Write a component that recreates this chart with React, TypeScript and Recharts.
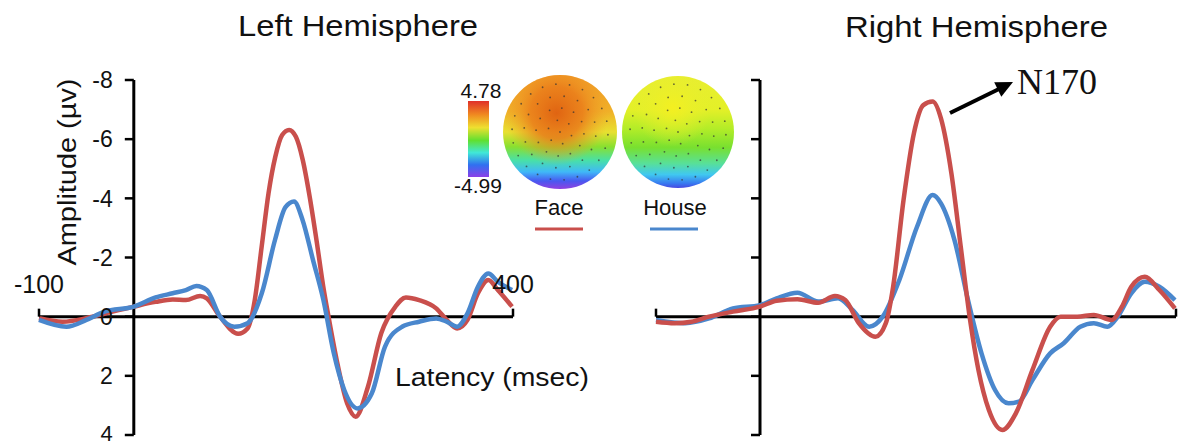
import React from "react";
import { LineChart, Line, XAxis, YAxis, ReferenceLine } from "recharts";

// ---- data (latency in ms, amplitude in µV; negative plotted up) ----
const leftFaceT = [-100, -75, -50, -31, 0, 23, 41, 55, 70, 77, 91, 110, 120, 127.6, 134.9, 142.1, 149.3, 156.5, 163.8, 171, 178.2, 185.5, 192.7, 199.9, 205.4, 214, 225, 234, 247, 261, 276, 287, 301, 319, 330, 341, 352, 363, 374, 384, 399];
const leftFaceV = [0.05, 0.17, 0.05, -0.1, -0.34, -0.5, -0.58, -0.56, -0.7, -0.62, 0, 0.58, 0.4, -0.56, -2.37, -4.17, -5.41, -6.14, -6.31, -6.08, -5.3, -4.06, -2.59, -1.01, 0, 1.46, 2.93, 3.38, 2.37, 0.56, -0.34, -0.65, -0.56, -0.28, 0.11, 0.4, 0.11, -0.79, -1.24, -0.9, -0.34];

const leftHouseT = [-100, -71, -50, -31, 0, 23, 41, 55, 66, 77, 91, 106, 120, 135, 149, 160, 169, 178, 189, 200, 211, 222, 236, 251, 265, 283, 301, 319, 330, 341, 352, 363, 374, 384, 399];
const leftHouseV = [0.11, 0.34, 0.11, -0.17, -0.34, -0.65, -0.79, -0.9, -1.04, -0.9, 0, 0.34, 0.22, -0.79, -2.6, -3.7, -3.89, -3.27, -1.92, -0.56, 1.24, 2.48, 3.1, 2.6, 1.01, 0.34, 0.17, 0.06, 0.17, 0.34, -0.11, -1.01, -1.46, -1.18, -0.9];

const rightFaceT = [-100, -82, -66, -49, -26, 0, 16, 36, 56, 72, 82, 95, 111, 121, 128, 138, 148, 157, 166, 174, 184, 193, 202, 210, 220, 233, 246, 262, 279, 289, 305, 321, 338, 348, 357, 370, 384, 399];
const rightFaceV = [0.17, 0.22, 0.17, 0, -0.17, -0.34, -0.54, -0.59, -0.47, -0.7, -0.56, 0.22, 0.68, 0.22, -1.01, -3.94, -6.2, -7.15, -7.27, -6.7, -4.85, -2.37, 0.11, 1.8, 3.15, 3.83, 3.27, 1.8, 0.34, 0, 0, -0.06, 0.11, -0.34, -1.01, -1.35, -0.9, -0.28];

const rightHouseT = [-100, -72, -49, -26, 0, 16, 36, 56, 75, 89, 105, 118, 134, 151, 166, 174, 187, 200, 213, 226, 239, 249, 262, 279, 292, 308, 321, 334, 344, 357, 370, 384, 399];
const rightHouseV = [0.11, 0.22, 0.06, -0.28, -0.39, -0.62, -0.81, -0.51, -0.62, -0.23, 0.34, 0, -1.24, -3.04, -4.11, -3.83, -2.59, -0.56, 1.24, 2.48, 2.93, 2.87, 2.14, 1.24, 0.9, 0.34, 0.22, 0.34, 0, -0.79, -1.18, -1.01, -0.56];

const yTicks = [-8, -6, -4, -2, 0, 2, 4];
const xTicks = [-100, 400];
const X_DOMAIN: [number, number] = [-100, 400];
const Y_DOMAIN: [number, number] = [-8, 4];

const FACE = "#C94F4C";
const HOUSE = "#4A87CD";
const FONT = "'Liberation Sans', Arial, Helvetica, sans-serif";

const toRows = (t: number[], v: number[]) => t.map((x, i) => ({ t: x, v: v[i] }));

const TOP = 80;
const H = 445;
const PLOT_H = 355;

type PanelProps = {
  left: number;
  chartW: number;
  mLeft: number;
  plotW: number;
  face: { t: number; v: number }[];
  house: { t: number; v: number }[];
  labels: boolean;
  faceOnTop: boolean;
};

function Panel({ left, chartW, mLeft, plotW, face, house, labels, faceOnTop }: PanelProps) {
  const x0 = mLeft + (plotW * (0 - X_DOMAIN[0])) / (X_DOMAIN[1] - X_DOMAIN[0]);
  const yZero = TOP + (PLOT_H * (0 - Y_DOMAIN[0])) / (Y_DOMAIN[1] - Y_DOMAIN[0]);

  const YTick = (p: any) => {
    const y = p.y;
    const isLast = p.payload.value === Y_DOMAIN[1];
    return (
      <g>
        <line x1={x0 - 9} x2={x0} y1={y} y2={y} stroke="#000" strokeWidth={2.5} />
        {labels && (
          <text
            x={x0 - 21}
            y={isLast ? y - 2 : y}
            dy="0.36em"
            textAnchor="end"
            fontSize={isLast ? 22 : 23}
            fontFamily={FONT}
            fill="#111"
          >
            {p.payload.value}
          </text>
        )}
      </g>
    );
  };
  const XTick = (p: any) => {
    const x = p.x;
    return (
      <g>
        <line x1={x} x2={x} y1={yZero - 8} y2={yZero} stroke="#000" strokeWidth={2.5} />
        {labels && (
          <text x={x} y={yZero - 24} textAnchor="middle" fontSize={25} fontFamily={FONT} fill="#111">
            {p.payload.value}
          </text>
        )}
      </g>
    );
  };

  const faceLine = (
    <Line key="f" data={face} dataKey="v" type="monotone" stroke={FACE} strokeWidth={4.5} dot={false} isAnimationActive={false} />
  );
  const houseLine = (
    <Line key="h" data={house} dataKey="v" type="monotone" stroke={HOUSE} strokeWidth={4.5} dot={false} isAnimationActive={false} />
  );

  return (
    <div style={{ position: "absolute", left, top: 0 }}>
      <LineChart
        width={chartW}
        height={H}
        margin={{ top: TOP, right: chartW - mLeft - plotW, bottom: H - TOP - PLOT_H - 1, left: mLeft - 1 }}
      >
        <XAxis
          dataKey="t"
          type="number"
          domain={X_DOMAIN}
          ticks={xTicks}
          allowDuplicatedCategory={false}
          height={1}
          axisLine={false}
          tickLine={false}
          tick={XTick}
          interval={0}
        />
        <YAxis
          type="number"
          domain={Y_DOMAIN}
          reversed
          ticks={yTicks}
          width={1}
          axisLine={false}
          tickLine={false}
          tick={YTick}
          interval={0}
        />
        <ReferenceLine x={0} stroke="#000" strokeWidth={3} />
        <ReferenceLine y={0} stroke="#000" strokeWidth={3} />
        {faceOnTop ? [houseLine, faceLine] : [faceLine, houseLine]}
      </LineChart>
    </div>
  );
}

function electrodeDots(cx: number, cy: number) {
  const rings = [
    { r: 0, n: 1 },
    { r: 12, n: 6 },
    { r: 24, n: 12 },
    { r: 36, n: 16 },
    { r: 48, n: 22 },
  ];
  const out: React.ReactNode[] = [];
  rings.forEach((ring, ri) => {
    for (let k = 0; k < ring.n; k++) {
      const a = (2 * Math.PI * k) / ring.n + ri * 0.3;
      out.push(
        <circle key={`${ri}-${k}`} cx={cx + ring.r * Math.cos(a)} cy={cy + ring.r * Math.sin(a)} r={0.9} fill="#333" opacity={0.7} />
      );
    }
  });
  return out;
}

function Overlay() {
  return (
    <svg width={1180} height={445} style={{ position: "absolute", left: 0, top: 0, pointerEvents: "none" }}>
      <defs>
        <linearGradient id="cbar" x1="0" y1="0" x2="0" y2="1">
          <stop offset="0%" stopColor="#E0302A" />
          <stop offset="18%" stopColor="#F08A20" />
          <stop offset="35%" stopColor="#EEE030" />
          <stop offset="52%" stopColor="#60E030" />
          <stop offset="68%" stopColor="#40E8D8" />
          <stop offset="84%" stopColor="#3070F0" />
          <stop offset="100%" stopColor="#8A40E8" />
        </linearGradient>
        <linearGradient id="faceBase" x1="0" y1="0" x2="0" y2="1">
          <stop offset="0%" stopColor="#F09A26" />
          <stop offset="32%" stopColor="#F0B028" />
          <stop offset="50%" stopColor="#E8E030" />
          <stop offset="63%" stopColor="#88E030" />
          <stop offset="75%" stopColor="#48E0A8" />
          <stop offset="85%" stopColor="#40B8F8" />
          <stop offset="93%" stopColor="#4858F0" />
          <stop offset="100%" stopColor="#9040E0" />
        </linearGradient>
        <radialGradient id="faceHot" cx="0.47" cy="0.33" r="0.46">
          <stop offset="0%" stopColor="#E06412" stopOpacity={1} />
          <stop offset="50%" stopColor="#EA7C1A" stopOpacity={0.85} />
          <stop offset="100%" stopColor="#F0A028" stopOpacity={0} />
        </radialGradient>
        <linearGradient id="houseBase" x1="0" y1="0" x2="0" y2="1">
          <stop offset="0%" stopColor="#E8EE30" />
          <stop offset="30%" stopColor="#E4F028" />
          <stop offset="48%" stopColor="#B0EC28" />
          <stop offset="64%" stopColor="#78E030" />
          <stop offset="78%" stopColor="#58E098" />
          <stop offset="88%" stopColor="#40C8F0" />
          <stop offset="96%" stopColor="#3878F0" />
          <stop offset="100%" stopColor="#4848E0" />
        </linearGradient>
        <radialGradient id="houseHot" cx="0.45" cy="0.28" r="0.35">
          <stop offset="0%" stopColor="#F4F020" stopOpacity={1} />
          <stop offset="100%" stopColor="#E8EE30" stopOpacity={0} />
        </radialGradient>
      </defs>

      {/* titles */}
      <text x={238} y={36} fontSize={29} fontFamily={FONT} fill="#111" textLength={240} lengthAdjust="spacingAndGlyphs">
        Left Hemisphere
      </text>
      <text x={845} y={37} fontSize={29} fontFamily={FONT} fill="#111" textLength={263} lengthAdjust="spacingAndGlyphs">
        Right Hemisphere
      </text>

      {/* axis titles */}
      <text
        x={0}
        y={0}
        transform="translate(76,172) rotate(-90)"
        textAnchor="middle"
        fontSize={26}
        fontFamily={FONT}
        fill="#111"
        textLength={187}
        lengthAdjust="spacingAndGlyphs"
      >
        Amplitude (µv)
      </text>
      <text x={395} y={386} fontSize={26} fontFamily={FONT} fill="#111" textLength={194} lengthAdjust="spacingAndGlyphs">
        Latency (msec)
      </text>

      {/* inset: colour bar and scalp maps */}
      <rect x={468} y={101} width={21} height={76} fill="url(#cbar)" />
      <text x={481} y={98} textAnchor="middle" fontSize={21} fontFamily={FONT} fill="#111">4.78</text>
      <text x={478} y={193} textAnchor="middle" fontSize={21} fontFamily={FONT} fill="#111">-4.99</text>

      <circle cx={560} cy={132} r={57} fill="url(#faceBase)" />
      <circle cx={560} cy={132} r={57} fill="url(#faceHot)" />
      {electrodeDots(560, 132)}
      <circle cx={678} cy={132} r={56} fill="url(#houseBase)" />
      <circle cx={678} cy={132} r={56} fill="url(#houseHot)" />
      {electrodeDots(678, 132)}

      <text x={559} y={215} textAnchor="middle" fontSize={22} fontFamily={FONT} fill="#111">Face</text>
      <text x={675} y={215} textAnchor="middle" fontSize={22} fontFamily={FONT} fill="#111">House</text>
      <line x1={535} x2={583} y1={229} y2={229} stroke={FACE} strokeWidth={3} />
      <line x1={650} x2={698} y1={229} y2={229} stroke={HOUSE} strokeWidth={3} />

      {/* N170 annotation */}
      <line x1={950} y1={113} x2={999} y2={89} stroke="#000" strokeWidth={4} />
      <polygon points="1013,82 1001.3,96.7 994.2,82.3" fill="#000" />
      <text x={1017} y={94} fontSize={36} fontFamily="'Liberation Serif', 'Times New Roman', serif" fill="#111">
        N170
      </text>
    </svg>
  );
}

export default function App() {
  return (
    <div style={{ position: "absolute", left: 0, top: 0, width: 1180, height: 445, background: "#fff", overflow: "hidden" }}>
      <Panel
        left={0}
        chartW={540}
        mLeft={39}
        plotW={474}
        face={toRows(leftFaceT, leftFaceV)}
        house={toRows(leftHouseT, leftHouseV)}
        labels={true}
        faceOnTop={false}
      />
      <Panel
        left={620}
        chartW={560}
        mLeft={36}
        plotW={520}
        face={toRows(rightFaceT, rightFaceV)}
        house={toRows(rightHouseT, rightHouseV)}
        labels={false}
        faceOnTop={true}
      />
      <Overlay />
    </div>
  );
}
